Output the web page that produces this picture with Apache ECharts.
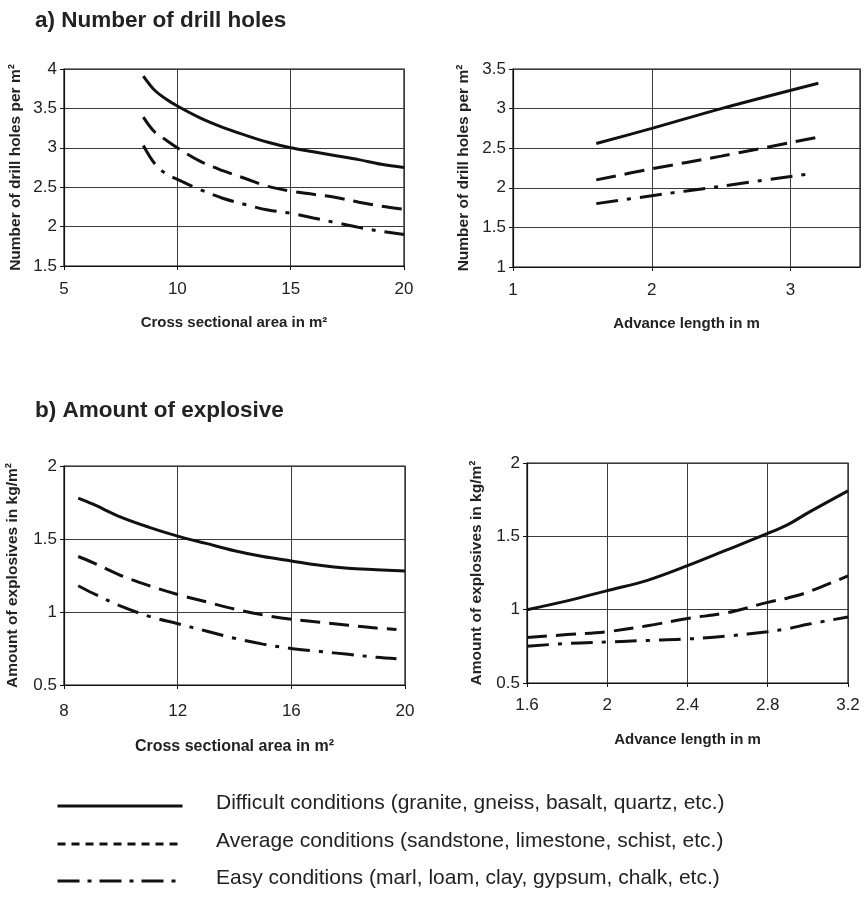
<!DOCTYPE html>
<html><head><meta charset="utf-8">
<script src="https://cdn.jsdelivr.net/npm/echarts@6/dist/echarts.min.js"></script>
<style>html,body{margin:0;padding:0;background:#fff}#c{width:864px;height:913px}</style>
</head><body><div id="c"></div>
<script>
// a) Number of drill holes vs cross sectional area
const areaA = [8.5, 9, 9.5, 10, 11, 12, 13, 14, 15, 16, 17, 18, 19, 20];
const holesAreaDifficult = [3.91, 3.73, 3.62, 3.53, 3.38, 3.26, 3.16, 3.07, 3.0, 2.95, 2.9, 2.85, 2.79, 2.75];
const holesAreaAverage   = [3.39, 3.2, 3.1, 3.0, 2.83, 2.71, 2.61, 2.51, 2.45, 2.41, 2.37, 2.31, 2.26, 2.22];
const holesAreaEasy      = [3.03, 2.8, 2.67, 2.6, 2.47, 2.36, 2.28, 2.21, 2.17, 2.11, 2.05, 1.99, 1.94, 1.9];
// a) Number of drill holes vs advance length
const advA = [1.6, 2.0, 2.5, 3.2];
const advAEasy = [1.6, 2.0, 2.5, 3.15];
const holesAdvDifficult = [2.56, 2.75, 3.0, 3.32];
const holesAdvAverage   = [2.1, 2.24, 2.4, 2.64];
const holesAdvEasy      = [1.8, 1.9, 2.02, 2.18];
// b) Amount of explosive vs cross sectional area
const areaB = [8.5, 9, 10, 11, 12, 13, 14, 15, 16, 17, 18, 19, 20];
const areaBDashed = [8.5, 9, 10, 11, 12, 13, 14, 15, 16, 17, 18, 19, 19.7];
const explAreaDifficult = [1.78, 1.74, 1.65, 1.58, 1.52, 1.47, 1.42, 1.38, 1.35, 1.32, 1.30, 1.29, 1.28];
const explAreaAverage   = [1.38, 1.34, 1.25, 1.18, 1.12, 1.07, 1.02, 0.98, 0.95, 0.93, 0.91, 0.89, 0.88];
const explAreaEasy      = [1.18, 1.13, 1.04, 0.97, 0.92, 0.87, 0.82, 0.78, 0.75, 0.73, 0.71, 0.69, 0.68];
// b) Amount of explosive vs advance length
const advB = [1.6, 1.8, 2.0, 2.2, 2.4, 2.6, 2.8, 2.9, 3.0, 3.2];
const explAdvDifficult = [1.0, 1.06, 1.13, 1.2, 1.3, 1.41, 1.52, 1.58, 1.66, 1.81];
const explAdvAverage   = [0.81, 0.83, 0.85, 0.89, 0.94, 0.98, 1.05, 1.08, 1.12, 1.23];
const explAdvEasy      = [0.75, 0.77, 0.78, 0.79, 0.8, 0.82, 0.85, 0.87, 0.9, 0.95];

const titles = ['a) Number of drill holes', 'b) Amount of explosive'];
const legendNames = [
  'Difficult conditions (granite, gneiss, basalt, quartz, etc.)',
  'Average conditions (sandstone, limestone, schist, etc.)',
  'Easy conditions (marl, loam, clay, gypsum, chalk, etc.)'
];

const FONT = '"Liberation Sans", Arial, Helvetica, sans-serif';
const TXT = '#222';
const dashAvg = [20, 9];
const dashEasy = [22, 9, 4, 9];
const lineTypes = ['solid', dashAvg, dashEasy];

function zip(xs, ys) { return xs.map((x, i) => [x, ys[i]]); }

const grids = [
  {left: 64, top: 69, width: 340, height: 197},
  {left: 513, top: 69, width: 347, height: 198},
  {left: 64, top: 466, width: 341, height: 219},
  {left: 527, top: 463, width: 321, height: 220}
];

const xDefs = [
  {min: 5, max: 20, interval: 5, name: 'Cross sectional area in m²', nameGap: 49, nameSize: 15, margin: 15, showMax: true},
  {min: 1, max: 3.5, interval: 1, name: 'Advance length in m', nameGap: 49, nameSize: 15, margin: 15, showMax: false},
  {min: 8, max: 20, interval: 4, name: 'Cross sectional area in m²', nameGap: 54, nameSize: 16, margin: 18, showMax: true},
  {min: 1.6, max: 3.2, interval: 0.4, name: 'Advance length in m', nameGap: 49, nameSize: 15, margin: 14, showMax: true}
];
const yDefs = [
  {min: 1.5, max: 4, interval: 0.5, name: 'Number of drill holes per m²', nameGap: 40},
  {min: 1, max: 3.5, interval: 0.5, name: 'Number of drill holes per m²', nameGap: 41},
  {min: 0.5, max: 2, interval: 0.5, name: 'Amount of explosives in kg/m²', nameGap: 43},
  {min: 0.5, max: 2, interval: 0.5, name: 'Amount of explosives in kg/m²', nameGap: 42}
];

const gridLine = {show: true, lineStyle: {color: '#3a3a3a', width: 1}};
const axisLine = {show: true, lineStyle: {color: '#111', width: 1.2}};

const xAxis = xDefs.map((d, i) => ({
  type: 'value', gridIndex: i, min: d.min, max: d.max, interval: d.interval,
  name: d.name, nameLocation: 'middle', nameGap: d.nameGap,
  nameTextStyle: {fontFamily: FONT, fontWeight: 'bold', fontSize: d.nameSize, color: TXT},
  axisLine: axisLine, axisTick: {show: true, length: 4, lineStyle: {color: '#111'}},
  splitLine: gridLine,
  axisLabel: {fontFamily: FONT, fontSize: 17, color: TXT, margin: d.margin, showMaxLabel: d.showMax, showMinLabel: true}
}));
const yAxis = yDefs.map((d, i) => ({
  type: 'value', gridIndex: i, min: d.min, max: d.max, interval: d.interval,
  name: d.name, nameLocation: 'middle', nameGap: d.nameGap, nameRotate: 90,
  nameTextStyle: {fontFamily: FONT, fontWeight: 'bold', fontSize: 15.5, color: TXT},
  axisLine: axisLine, axisTick: {show: true, length: 4, lineStyle: {color: '#111'}},
  splitLine: gridLine,
  axisLabel: {fontFamily: FONT, fontSize: 17, color: TXT, margin: 7}
}));

function mk(i, xs, ys, t) {
  return {
    type: 'line', xAxisIndex: i, yAxisIndex: i, data: zip(xs, ys),
    showSymbol: false, smooth: 0.35, silent: true,
    lineStyle: {color: '#111', width: 3, type: lineTypes[t], cap: 'butt'}
  };
}

const series = [
  mk(0, areaA, holesAreaDifficult, 0), mk(0, areaA, holesAreaAverage, 1), mk(0, areaA, holesAreaEasy, 2),
  mk(1, advA, holesAdvDifficult, 0), mk(1, advA, holesAdvAverage, 1), mk(1, advAEasy, holesAdvEasy, 2),
  mk(2, areaB, explAreaDifficult, 0), mk(2, areaBDashed, explAreaAverage, 1), mk(2, areaBDashed, explAreaEasy, 2),
  mk(3, advB, explAdvDifficult, 0), mk(3, advB, explAdvAverage, 1), mk(3, advB, explAdvEasy, 2)
];

const legendY = [805, 843, 880];
const legendDash = [null, [8, 6], [22, 8, 4, 8]];
const graphic = [];
legendNames.forEach((n, i) => {
  graphic.push({type: 'line', left: 55, top: legendY[i] - 1.5,
    shape: {x1: 0, y1: 0, x2: 125, y2: 0},
    style: {stroke: '#111', lineWidth: 3, lineDash: legendDash[i]}});
  graphic.push({type: 'text', left: 216, top: legendY[i] - 12,
    style: {text: n, font: '21px ' + FONT, fill: TXT}});
});

const chart = echarts.init(document.getElementById('c'), null, {renderer: 'canvas'});
chart.setOption({
  animation: false,
  backgroundColor: '#fff',
  title: [
    {text: titles[0], left: 30, top: 4, textStyle: {fontFamily: FONT, fontSize: 22.5, fontWeight: 'bold', color: TXT}},
    {text: titles[1], left: 30, top: 394, textStyle: {fontFamily: FONT, fontSize: 22.5, fontWeight: 'bold', color: TXT}}
  ],
  grid: grids.map(g => Object.assign({show: true, borderColor: '#111', borderWidth: 1.2, backgroundColor: 'transparent'}, g)),
  xAxis: xAxis,
  yAxis: yAxis,
  series: series,
  graphic: graphic
});
</script>
</body></html>
